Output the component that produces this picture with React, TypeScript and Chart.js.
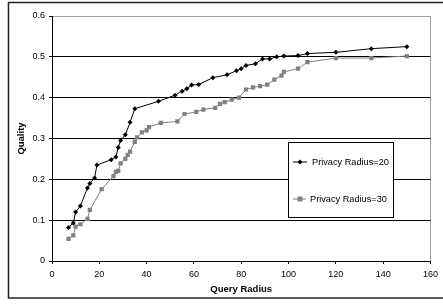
import React, { useEffect, useRef } from "react";
import { Chart, registerables } from "chart.js";

Chart.register(...registerables);

const seriesLabels = ["Privacy Radius=20", "Privacy Radius=30"];

const radius20 = [7, 9, 10, 12, 15, 16, 18, 19, 25, 27, 28, 29, 31, 33, 35, 45, 52, 55, 57, 59, 62, 68, 74, 78, 80, 82, 86, 89, 92, 95, 98, 104, 108, 120, 135, 150];
const quality20 = [0.082, 0.093, 0.12, 0.135, 0.179, 0.19, 0.203, 0.235, 0.248, 0.255, 0.278, 0.295, 0.309, 0.34, 0.373, 0.391, 0.406, 0.416, 0.422, 0.431, 0.432, 0.449, 0.456, 0.466, 0.471, 0.479, 0.483, 0.495, 0.495, 0.5, 0.502, 0.503, 0.508, 0.511, 0.52, 0.525];

const radius30 = [7, 9, 10, 12, 15, 16, 21, 26, 27, 28, 29, 31, 32, 33, 35, 36, 38, 40, 41, 46, 53, 56, 61, 64, 69, 71, 73, 76, 79, 82, 85, 88, 91, 94, 97, 98, 104, 108, 120, 135, 150];
const quality30 = [0.054, 0.063, 0.084, 0.09, 0.103, 0.125, 0.176, 0.208, 0.218, 0.221, 0.239, 0.25, 0.26, 0.268, 0.292, 0.303, 0.315, 0.32, 0.328, 0.338, 0.342, 0.36, 0.365, 0.371, 0.375, 0.385, 0.389, 0.395, 0.4, 0.42, 0.425, 0.428, 0.432, 0.444, 0.454, 0.463, 0.471, 0.487, 0.497, 0.497, 0.502];

const xTicks = [0, 20, 40, 60, 80, 100, 120, 140, 160];
const yTicks = [0, 0.1, 0.2, 0.3, 0.4, 0.5, 0.6];

const FONT = "'Liberation Sans', Arial, sans-serif";

const framePlugin = {
  id: "frame",
  afterDraw(chart: any) {
    const ctx = chart.ctx;
    ctx.save();
    ctx.strokeStyle = "#222";
    ctx.lineWidth = 1.5;
    ctx.strokeRect(8.5, 2.5, 445, 295.5);
    ctx.restore();
  },
};

const legendBoxPlugin = {
  id: "legendBox",
  afterDraw(chart: any) {
    const ctx = chart.ctx;
    const x = chart.scales.x;
    const y = chart.scales.y;
    const bx = 288.5, by = 142.5, bw = 105, bh = 75;
    ctx.save();
    ctx.fillStyle = "#fff";
    ctx.fillRect(bx, by, bw, bh);
    ctx.strokeStyle = "#000";
    ctx.lineWidth = 1;
    ctx.strokeRect(bx, by, bw, bh);
    const rows = [162, 199];
    chart.data.datasets.forEach((ds: any, i: number) => {
      const cy = rows[i];
      const lx0 = 293, lx1 = i === 0 ? 307 : 306;
      ctx.strokeStyle = ds.borderColor;
      ctx.lineWidth = 1;
      ctx.beginPath();
      ctx.moveTo(lx0, cy);
      ctx.lineTo(lx1, cy);
      ctx.stroke();
      ctx.fillStyle = ds.pointBackgroundColor;
      const mx = 300;
      if (ds.pointStyle === "rectRot") {
        const r = 2.5;
        ctx.beginPath();
        ctx.moveTo(mx, cy - r);
        ctx.lineTo(mx + r, cy);
        ctx.lineTo(mx, cy + r);
        ctx.lineTo(mx - r, cy);
        ctx.closePath();
        ctx.fill();
      } else {
        ctx.fillRect(mx - 2.5, cy - 2.5, 5, 5);
      }
      ctx.fillStyle = "#000";
      ctx.font = `9.2px ${FONT}`;
      ctx.textBaseline = "middle";
      ctx.textAlign = "left";
      ctx.fillText(ds.label, i === 0 ? 312 : 310, cy);
    });
    ctx.restore();
    void x; void y;
  },
};

export default function App() {
  const ref = useRef<HTMLCanvasElement | null>(null);

  useEffect(() => {
    if (!ref.current) return;
    const chart = new Chart(ref.current, {
      type: "scatter",
      data: {
        datasets: [
          {
            label: seriesLabels[0],
            data: radius20.map((r, i) => ({ x: r, y: quality20[i] })),
            showLine: true,
            borderColor: "#000",
            backgroundColor: "#000",
            pointBackgroundColor: "#000",
            pointBorderColor: "#000",
            borderWidth: 1,
            pointStyle: "rectRot",
            pointRadius: 2.5,
            pointBorderWidth: 0,
            order: 1,
          },
          {
            label: seriesLabels[1],
            data: radius30.map((r, i) => ({ x: r, y: quality30[i] })),
            showLine: true,
            borderColor: "#808080",
            backgroundColor: "#808080",
            pointBackgroundColor: "#808080",
            pointBorderColor: "#808080",
            borderWidth: 1,
            pointStyle: "rect",
            pointRadius: 3,
            pointBorderWidth: 0,
            order: 2,
          },
        ],
      },
      options: {
        responsive: false,
        animation: false,
        devicePixelRatio: 1,
        layout: { padding: { left: 0, top: 16, right: 9, bottom: 0 } },
        plugins: {
          legend: { display: false },
          tooltip: { enabled: false },
        },
        scales: {
          x: {
            type: "linear",
            min: xTicks[0],
            max: xTicks[xTicks.length - 1],
            afterFit: (s: any) => { s.height = 46; },
            afterBuildTicks: (s: any) => { s.ticks = xTicks.map((v) => ({ value: v })); },
            border: { display: true, color: "#000", width: 1 },
            grid: {
              drawOnChartArea: true,
              color: (c: any) => (c.tick && c.tick.value === 160 ? "#a0a0a0" : "rgba(0,0,0,0)"),
              tickColor: "#000",
              tickLength: 3,
              lineWidth: 1,
            },
            ticks: {
              color: "#000",
              font: { family: FONT, size: 9 },
              padding: 5,
              maxRotation: 0,
            },
            title: {
              display: true,
              text: "Query Radius",
              color: "#000",
              font: { family: FONT, size: 9.5, weight: "bold" },
              padding: { top: 0, bottom: 12 },
            },
          },
          y: {
            type: "linear",
            min: yTicks[0],
            max: yTicks[yTicks.length - 1],
            afterFit: (s: any) => { s.width = 52; },
            afterBuildTicks: (s: any) => { s.ticks = yTicks.map((v) => ({ value: v })); },
            border: { display: true, color: "#000", width: 1 },
            grid: {
              color: (c: any) => (c.tick && Math.abs(c.tick.value - 0.6) < 1e-9 ? "#a0a0a0" : "#000"),
              tickColor: "#000",
              tickLength: 3,
              lineWidth: 1,
            },
            ticks: {
              color: "#000",
              font: { family: FONT, size: 9 },
              padding: 4,
              callback: (v: any) => String(Math.round(Number(v) * 10) / 10),
            },
            title: {
              display: true,
              text: "Quality",
              color: "#000",
              font: { family: FONT, size: 9.5, weight: "bold" },
              padding: { top: 16, bottom: 0 },
            },
          },
        },
      },
      plugins: [legendBoxPlugin, framePlugin],
    } as any);
    return () => chart.destroy();
  }, []);

  return (
    <div style={{ position: "fixed", left: 0, top: 0, width: 443, height: 307, background: "#fff" }}>
      <canvas ref={ref} width={443} height={307} style={{ width: 443, height: 307, display: "block" }} />
    </div>
  );
}
